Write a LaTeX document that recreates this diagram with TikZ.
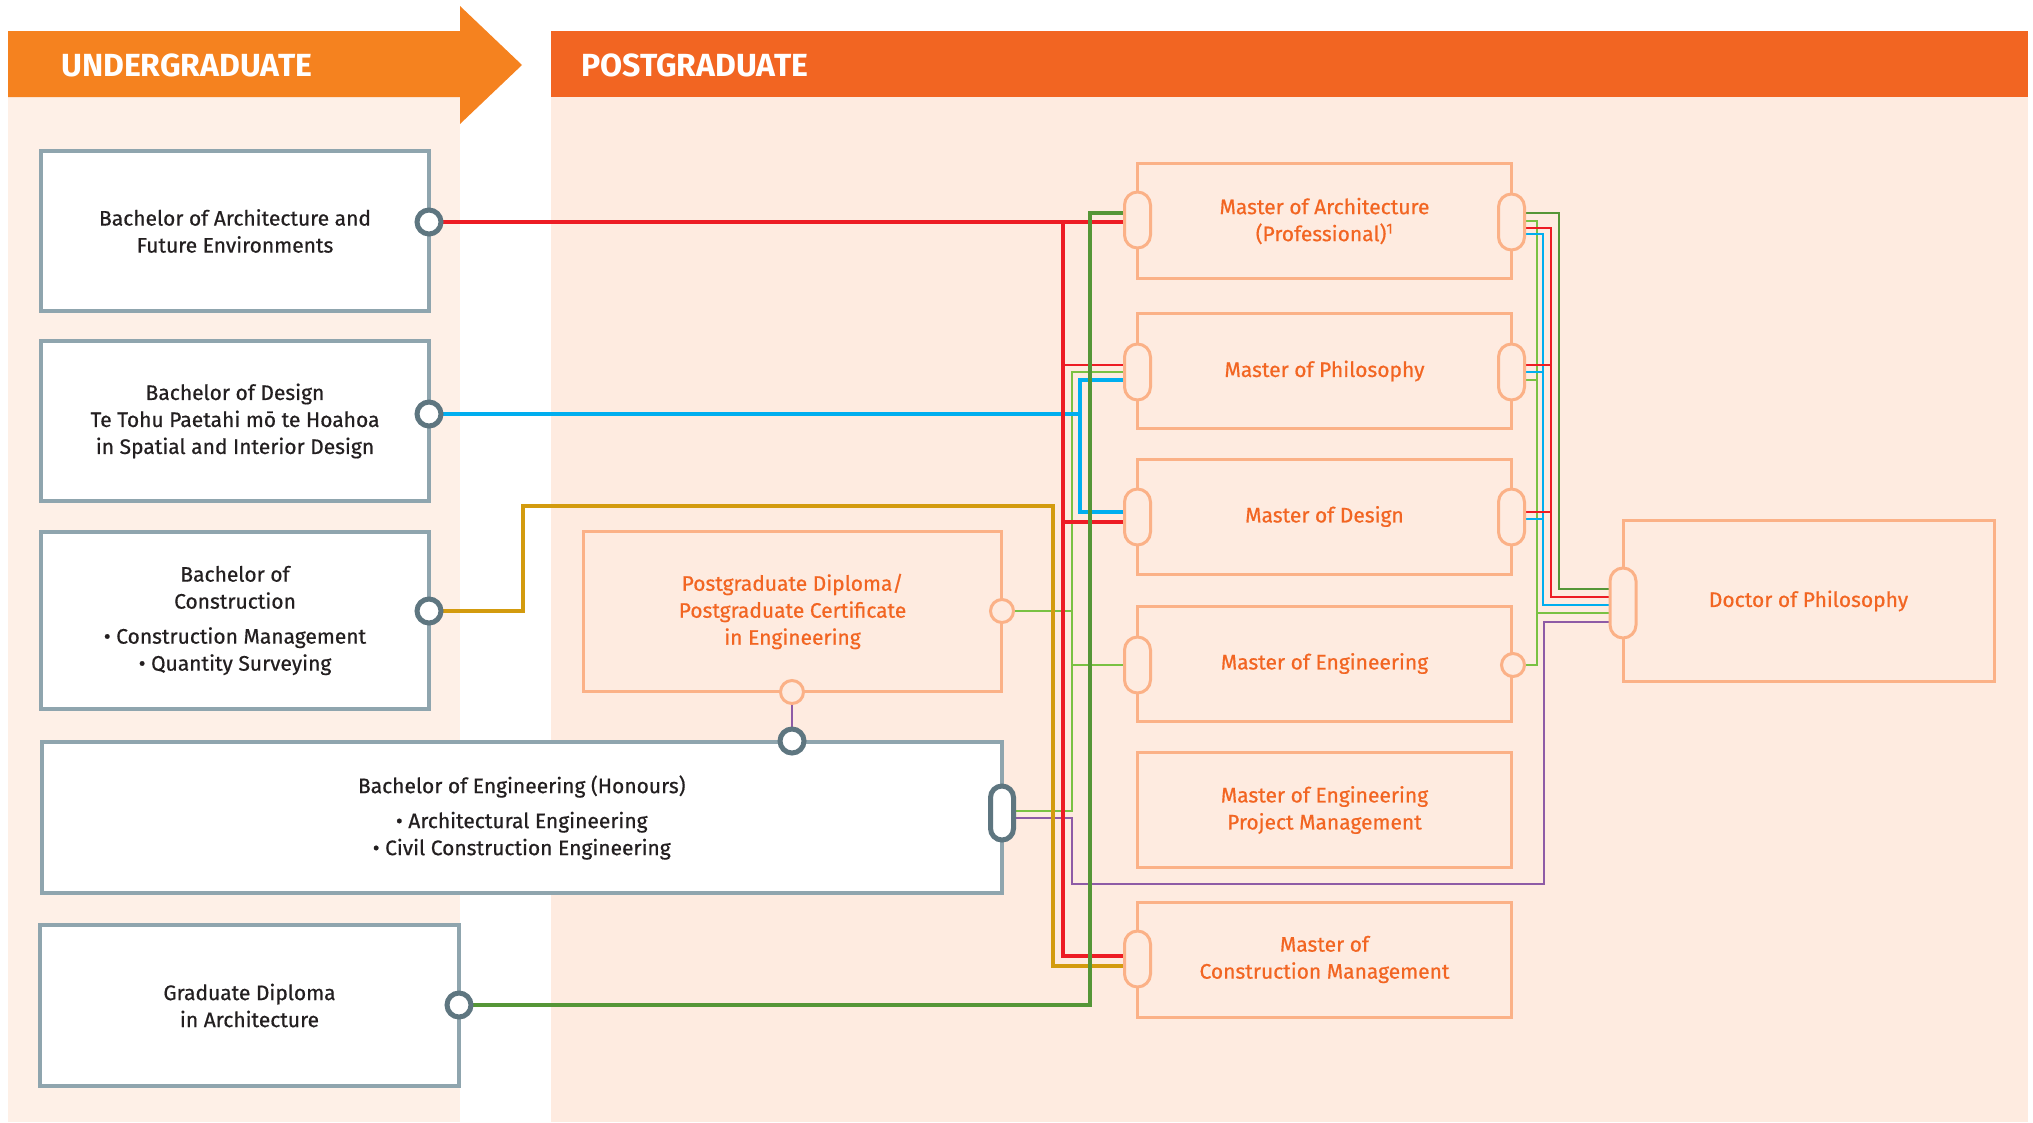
\documentclass[tikz,border=0pt]{standalone}
\usepackage{fontspec}
\setmainfont{Fira Sans}[FakeBold=0.6]
\newfontfamily\hdfamily{Fira Sans}
\usetikzlibrary{calc}

\definecolor{ugorange}{HTML}{F5821F}
\definecolor{pgorange}{HTML}{F26522}
\definecolor{ugbg}{HTML}{FEF0E7}
\definecolor{pgbg}{HTML}{FEEBE0}
\definecolor{ugline}{HTML}{8FA5AE}
\definecolor{ugdark}{HTML}{5E7680}
\definecolor{pgline}{HTML}{FBB187}
\definecolor{ugtext}{HTML}{231F20}
\definecolor{wred}{HTML}{ED1C24}
\definecolor{wblue}{HTML}{00AEEF}
\definecolor{wdgreen}{HTML}{559637}
\definecolor{wlgreen}{HTML}{7AC143}
\definecolor{wgold}{HTML}{D39B0E}
\definecolor{wpurple}{HTML}{8E5BA6}

\newcommand\boxfont{\fontsize{21pt}{27pt}\selectfont}
\newcommand\headfont{\hdfamily\bfseries\fontsize{32pt}{36pt}\selectfont}

\pgfdeclarelayer{back}
\pgfdeclarelayer{wires}
\pgfsetlayers{back,wires,main}

\tikzset{
  head/.style={anchor=west, inner sep=0pt, text=white, font=\headfont},
  ugbox/.style={draw=ugline, line width=4pt, fill=white, text=ugtext, align=center, font=\boxfont, inner sep=0pt},
  pgbox/.style={draw=pgline, line width=3pt, fill=pgbg, text=pgorange, align=center, font=\boxfont, inner sep=0pt},
  ugdot/.style={circle, draw=ugdark, line width=5pt, fill=white, minimum size=24pt, inner sep=0pt},
  ugpill/.style={rectangle, rounded corners=11.5pt, draw=ugdark, line width=5pt, fill=white, minimum width=23pt, minimum height=54pt, inner sep=0pt},
  pgdot/.style={circle, draw=pgline, line width=3pt, fill=pgbg, minimum size=23pt, inner sep=0pt},
  pgpill/.style={rectangle, rounded corners=13pt, draw=pgline, line width=3pt, fill=pgbg, minimum width=26pt, minimum height=56pt, inner sep=0pt},
  wthick/.style={line width=4.5pt},
  wmid/.style={line width=2.6pt},
  wthin/.style={line width=2.2pt}
}

\begin{document}
\begin{tikzpicture}[x=1pt,y=-1pt]
\useasboundingbox (0,0) rectangle (2033,1122);
\begin{pgfonlayer}{back}
\fill[ugbg] (8,97) rectangle (460,1122);
\fill[pgbg] (551,97) rectangle (2028,1122);
\fill[ugorange] (8,31) -- (460,31) -- (460,6) -- (522,65) -- (460,124) -- (460,97) -- (8,97) -- cycle;
\fill[pgorange] (551,31) rectangle (2028,97);
\end{pgfonlayer}
\node[head] (ug-head) at (61,65) {UNDERGRADUATE};
\node[head] (pg-head) at (581,65) {POSTGRADUATE};

\node[ugbox, minimum width=388pt, minimum height=160pt] (barch) at (235,231) {Bachelor of Architecture and\\Future Environments};
\node[ugbox, minimum width=388pt, minimum height=160pt] (bdes) at (235,421) {Bachelor of Design\\Te Tohu Paetahi mō te Hoahoa\\in Spatial and Interior Design};
\node[ugbox, minimum width=388pt, minimum height=177pt] (bcons) at (235,620.5) {Bachelor of\\Construction\\[8pt]• Construction Management\\• Quantity Surveying};
\node[ugbox, minimum width=960pt, minimum height=151pt] (beng) at (521.75,817.5) {Bachelor of Engineering (Honours)\\[8pt]• Architectural Engineering\\• Civil Construction Engineering};
\node[ugbox, minimum width=419pt, minimum height=161pt] (gdip) at (249.5,1005.5) {Graduate Diploma\\in Architecture};

\node[pgbox, minimum width=418pt, minimum height=160pt] (pgdip) at (792.5,611.5) {Postgraduate Diploma/\\Postgraduate Certificate\\in Engineering};
\node[pgbox, minimum width=374pt, minimum height=115pt] (march) at (1324.5,221) {Master of Architecture\\(Professional)\textsuperscript{1}};
\node[pgbox, minimum width=374pt, minimum height=115pt] (mphil) at (1324.5,371) {Master of Philosophy};
\node[pgbox, minimum width=374pt, minimum height=115pt] (mdes) at (1324.5,516.5) {Master of Design};
\node[pgbox, minimum width=374pt, minimum height=115pt] (meng) at (1324.5,663.5) {Master of Engineering};
\node[pgbox, minimum width=374pt, minimum height=115pt] (mepm) at (1324.5,810) {Master of Engineering\\Project Management};
\node[pgbox, minimum width=374pt, minimum height=115pt] (mcm) at (1324.5,959.5) {Master of\\Construction Management};
\node[pgbox, minimum width=371pt, minimum height=161pt] (phd) at (1808.5,601) {Doctor of Philosophy};

\node[ugdot] (barch-p) at (429,222) {};
\node[ugdot] (bdes-p) at (429,414) {};
\node[ugdot] (bcons-p) at (429,611) {};
\node[ugdot] (beng-t) at (792,741) {};
\node[ugpill] (beng-r) at (1002,813) {};
\node[ugdot] (gdip-p) at (459,1005) {};
\node[pgdot] (pgdip-r) at (1002,611) {};
\node[pgdot] (pgdip-b) at (792,692) {};
\node[pgpill] (march-l) at (1137.5,220) {};
\node[pgpill] (march-r) at (1511.5,222) {};
\node[pgpill] (mphil-l) at (1137.5,372) {};
\node[pgpill] (mphil-r) at (1511.5,372) {};
\node[pgpill] (mdes-l) at (1137.5,517) {};
\node[pgpill] (mdes-r) at (1511.5,517) {};
\node[pgpill] (meng-l) at (1137.5,665) {};
\node[pgdot] (meng-r) at (1513,665) {};
\node[pgpill] (mcm-l) at (1137.5,959) {};
\node[pgpill, minimum height=70pt] (phd-l) at (1623,603) {};

\coordinate (t-red) at (1063,222);
\coordinate (t-lg) at (1072,372);
\coordinate (t-blue) at (1080,380);
\coordinate (t-dg) at (1090,213);
\coordinate (g-jog) at (523,506);
\coordinate (t-gold) at (1053,506);
\coordinate (p-a) at (1072,884);
\coordinate (p-b) at (1544,884);
\coordinate (r-lg) at (1537,613);
\coordinate (r-blue) at (1543,605);
\coordinate (r-red) at (1551,597);
\coordinate (r-dg) at (1559,589);

\begin{pgfonlayer}{wires}
\draw[wlgreen, wthin] ([yshift=2pt]beng-r.center) -| (t-lg) -- (mphil-l.center);
\draw[wlgreen, wthin] (pgdip-r.center) -- (pgdip-r -| t-lg);
\draw[wlgreen, wthin] (meng-l.center) -- (meng-l -| t-lg);
\draw[wpurple, wthin] ([yshift=-5pt]beng-r.center) -| (p-a) -- (p-b) |- ([yshift=-19pt]phd-l.center);
\draw[wpurple, wthin] (pgdip-b.center) -- (beng-t.center);
\draw[wred, wthin] ([yshift=7pt]mphil-l.center) -| (t-red);
\draw[wblue, wthick] (bdes-p.center) -| (t-blue) -- ([yshift=-8pt]mphil-l.center);
\draw[wblue, wthick] ([yshift=5pt]mdes-l.center) -| (t-blue);
\draw[wgold, wthick] (bcons-p.center) -| (g-jog) -- (t-gold) |- ([yshift=-7pt]mcm-l.center);
\draw[wred, wthick] (barch-p.center) -- (barch-p -| march-l);
\draw[wred, wthick] ([yshift=3pt]mcm-l.center) -| (t-red);
\draw[wred, wthick] ([yshift=-5pt]mdes-l.center) -| (t-red);
\draw[wdgreen, wthick] (gdip-p.center) -| (t-dg) -- ([yshift=7pt]march-l.center);
\draw[wlgreen, wmid] ([yshift=1pt]march-r.center) -| (r-lg) -- ([yshift=-10pt]phd-l.center);
\draw[wlgreen, wmid] ([yshift=-8pt]mphil-r.center) -| (r-lg);
\draw[wlgreen, wmid] (meng-r.center) -| (r-lg);
\draw[wblue, wmid] ([yshift=-12pt]march-r.center) -| (r-blue) -- ([yshift=-2pt]phd-l.center);
\draw[wblue, wmid] (mphil-r.center) -| (r-blue);
\draw[wblue, wmid] ([yshift=-2pt]mdes-r.center) -| (r-blue);
\draw[wred, wmid] ([yshift=-6pt]march-r.center) -| (r-red) -- ([yshift=6pt]phd-l.center);
\draw[wred, wmid] ([yshift=7pt]mphil-r.center) -| (r-red);
\draw[wred, wmid] ([yshift=5pt]mdes-r.center) -| (r-red);
\draw[wdgreen, wmid] ([yshift=9pt]march-r.center) -| (r-dg) -- ([yshift=14pt]phd-l.center);
\end{pgfonlayer}
\end{tikzpicture}
\end{document}
